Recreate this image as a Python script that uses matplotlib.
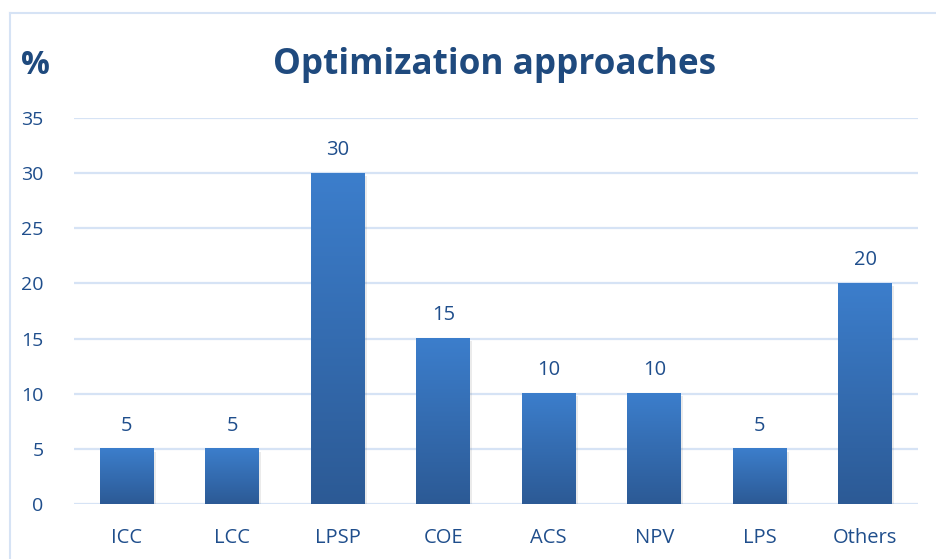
import matplotlib
matplotlib.use("Agg")
import matplotlib.pyplot as plt
import numpy as np
from matplotlib.colors import LinearSegmentedColormap
from matplotlib.patches import Rectangle
from matplotlib.lines import Line2D

categories = ["ICC", "LCC", "LPSP", "COE", "ACS", "NPV", "LPS", "Others"]
values = [5, 5, 30, 15, 10, 10, 5, 20]
yticks = [0, 5, 10, 15, 20, 25, 30, 35]
title = "Optimization approaches"
ylabel = "%"

W, H = 937, 559
fig = plt.figure(figsize=(W / 100, H / 100), dpi=100)
fig.patch.set_facecolor("white")

font = "Open Sans"
text_col = "#1F4E8C"
title_col = "#1F4A7E"
grid_col = "#D6E3F5"

ax = fig.add_axes([74 / W, 1 - 504 / H, (918 - 74) / W, (504 - 118) / H])
ax.set_xlim(-0.5, len(categories) - 0.5)
ax.set_ylim(0, 35)
for s in ax.spines.values():
    s.set_visible(False)
ax.set_yticks(yticks)
ax.set_yticklabels([str(t) for t in yticks], fontfamily=font, fontsize=14, color=text_col)
ax.set_xticks(range(len(categories)))
ax.set_xticklabels(categories, fontfamily=font, fontsize=14.5, color=text_col)
ax.tick_params(axis="both", length=0)
ax.tick_params(axis="y", pad=22)
ax.tick_params(axis="x", pad=17)
ax.yaxis.grid(True, color=grid_col, linewidth=1.6)
ax.set_axisbelow(True)

cmap = LinearSegmentedColormap.from_list("bar", ["#2C5A95", "#3C7ECC"])
grad = np.linspace(0, 1, 256).reshape(-1, 1)
bars = ax.bar(range(len(categories)), values, width=0.51, color="none", zorder=2)
for b, v in zip(bars, values):
    x0 = b.get_x()
    w = b.get_width()
    sh = Rectangle((x0 + 0.02, -0.25), w, v, facecolor="#000000", alpha=0.08,
                   edgecolor="none", zorder=1.5)
    ax.add_patch(sh)
    ax.imshow(grad, extent=(x0, x0 + w, 0, v), origin="lower", cmap=cmap,
              aspect="auto", zorder=2.5, interpolation="bilinear")
    ax.text(b.get_x() + w / 2, v + 1.2, str(v), ha="center", va="bottom",
            fontfamily=font, fontsize=14.5, color=text_col, zorder=3)
ax.set_xlim(-0.5, len(categories) - 0.5)
ax.set_ylim(0, 35)

fig.text(495 / W, 1 - 65 / H, title, ha="center", va="center", fontfamily=font,
         fontweight="bold", fontsize=25.3, color=title_col)
fig.text(35 / W, 1 - 66 / H, ylabel, ha="center", va="center", fontfamily=font,
         fontweight="bold", fontsize=23, color=title_col)

fig.add_artist(Line2D([10 / W, 1], [1 - 13 / H, 1 - 13 / H], color="#D6E3F5",
                      linewidth=1.5, transform=fig.transFigure))
fig.add_artist(Line2D([10 / W, 10 / W], [0, 1 - 13 / H], color="#D6E3F5",
                      linewidth=1.5, transform=fig.transFigure))

fig.savefig("out.png", dpi=100)
